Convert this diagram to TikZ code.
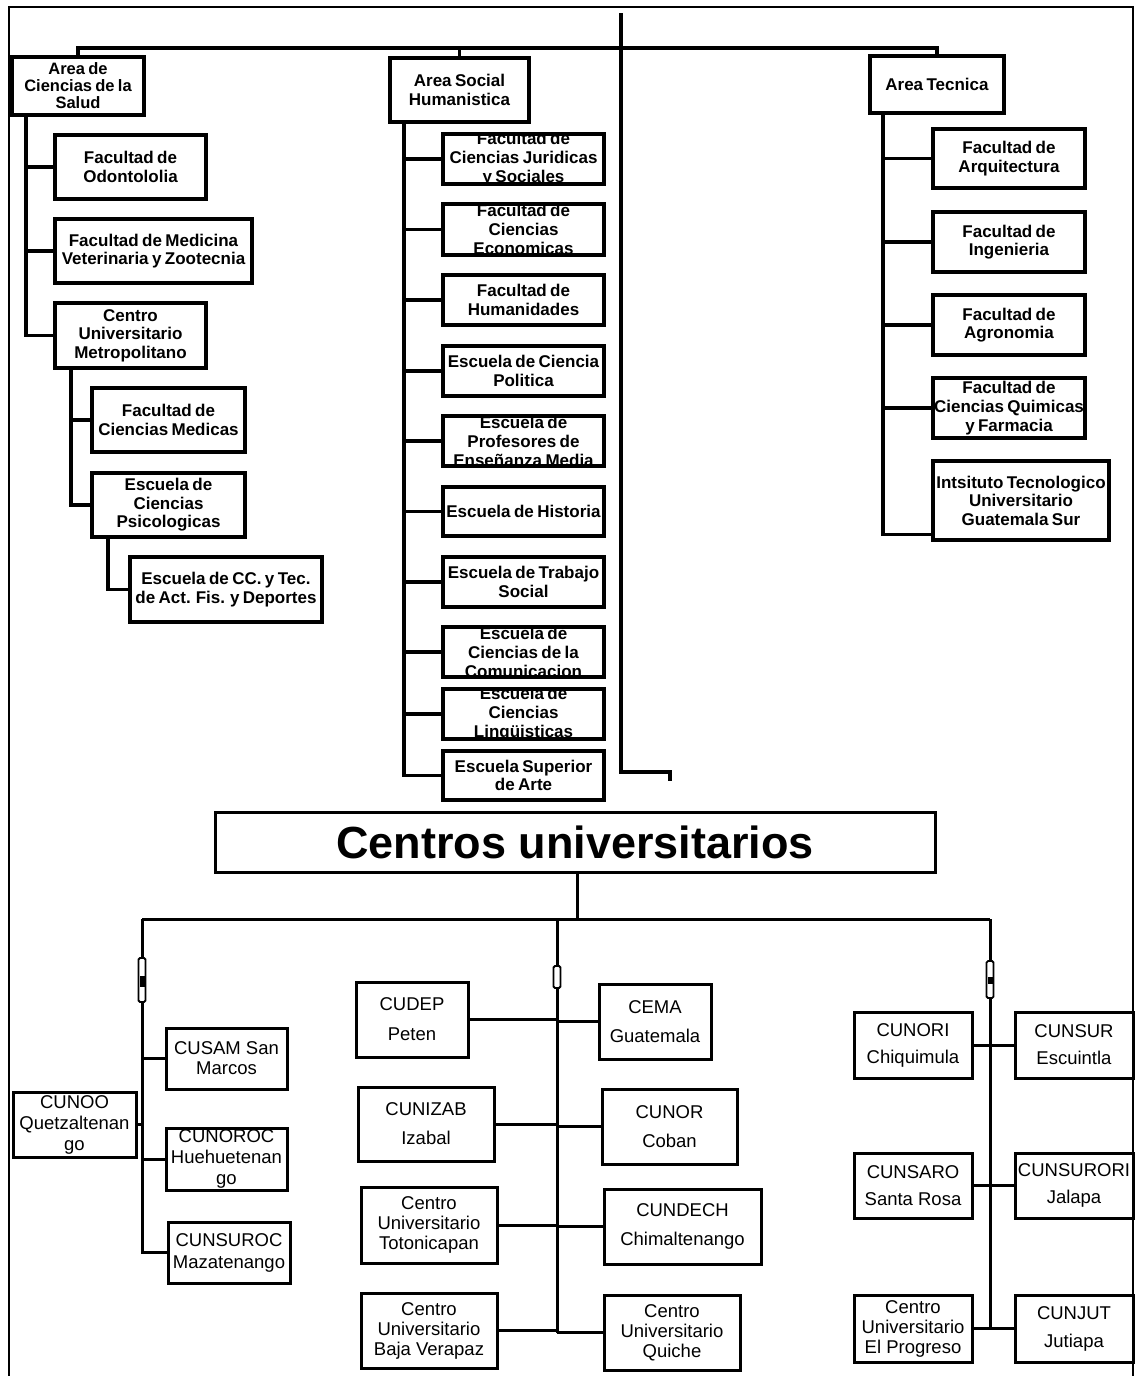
\documentclass[tikz,border=0pt]{standalone}
\usepackage{fontspec}
\setmainfont{Liberation Sans}
\newcommand\topf{\fontsize{17}{18.5}\selectfont\bfseries\spaceskip=0.2em\relax}
\newcommand\tightf{\fontsize{16.5}{17}\selectfont\bfseries\spaceskip=0.2em\relax}
\newcommand\clipf{\fontsize{17}{19}\selectfont\bfseries\spaceskip=0.2em\relax}
\newcommand\botf[1]{\fontsize{18.5}{#1}\selectfont}
\newcommand\orgnode[7][]{\node[box,#1,minimum width={#5-#3},minimum height={#6-#4}] (#2) at ({(#3+#5)/2},{(#4+#6)/2}) {#7};}
\tikzset{
  box/.style={draw, line width=3.4pt, inner sep=0pt, align=center, fill=white, font=\topf},
  conn/.style={line width=3.4pt},
  bconn/.style={line width=3pt},
  frame/.style={line width=2pt},
  mk/.style={draw, line width=1.8pt, fill=white, rounded corners=1.5pt},
  clipped/.style={path picture={\node[align=center,font=\clipf] at (path picture bounding box.center) {#1};}}
}
\begin{document}
\begin{tikzpicture}[x=1pt,y=-1pt]
\useasboundingbox (0,0) rectangle (1135,1376);
\draw[frame] (9,1376) -- (9,7) -- (1133,7) -- (1133,1376);

% ---------- top areas ----------
\orgnode[font=\tightf]{salud}{12}{57}{144}{115}{Area de\\Ciencias de la\\Salud}
\orgnode{social}{390}{58}{529}{122}{Area Social\\Humanistica}
\orgnode{tecnica}{870}{56}{1004}{113}{Area Tecnica}

% left column
\orgnode{odo}{55}{135}{206}{199}{Facultad de\\Odontololia}
\orgnode{vet}{55}{219}{252}{283}{Facultad de Medicina\\Veterinaria y Zootecnia}
\orgnode{cum}{55}{303}{206}{368}{Centro\\Universitario\\Metropolitano}
\orgnode{med}{92}{388}{245}{452}{Facultad de\\Ciencias Medicas}
\orgnode{psi}{92}{473}{245}{537}{Escuela de\\Ciencias\\Psicologicas}
\orgnode{dep}{130}{557}{322}{622}{Escuela de CC. y Tec.\\de Act. Fis. y Deportes}

% middle column
\orgnode[clipped={Facultad de\\Ciencias Juridicas\\y Sociales}]{jur}{443}{134}{604}{184}{}
\orgnode[clipped={Facultad de\\Ciencias\\Economicas}]{eco}{443}{204}{604}{255}{}
\orgnode{hum}{443}{275}{604}{325}{Facultad de\\Humanidades}
\orgnode{pol}{443}{346}{604}{396}{Escuela de Ciencia\\Politica}
\orgnode[clipped={Escuela de\\Profesores de\\Enseñanza Media}]{pro}{443}{416}{604}{466}{}
\orgnode{his}{443}{487}{604}{536}{Escuela de Historia}
\orgnode{tra}{443}{557}{604}{607}{Escuela de Trabajo\\Social}
\orgnode[clipped={Escuela de\\Ciencias de la\\Comunicacion}]{com}{443}{627}{604}{677}{}
\orgnode[clipped={Escuela de\\Ciencias\\Lingüisticas}]{lin}{443}{689}{604}{739}{}
\orgnode{art}{443}{751}{604}{800}{Escuela Superior\\de Arte}

% right column
\orgnode{arq}{933}{129}{1085}{188}{Facultad de\\Arquitectura}
\orgnode{ing}{933}{212}{1085}{272}{Facultad de\\Ingenieria}
\orgnode{agr}{933}{295}{1085}{355}{Facultad de\\Agronomia}
\orgnode[clipped={Facultad de\\Ciencias Quimicas\\y Farmacia}]{qui}{933}{378}{1085}{438}{}
\orgnode{its}{933}{461}{1109}{540}{Intsituto Tecnologico\\Universitario\\Guatemala Sur}

% ---------- top connectors ----------
\coordinate (barY) at (0,48);
\draw[conn] (salud.north) -- (salud.north |- barY) -- (tecnica.north |- barY) -- (tecnica.north);
\draw[conn] (social.north) -- (social.north |- barY);
\coordinate (c0) at (621,13);
\coordinate (c1) at (621,772);
\coordinate (c2) at (670,781);
\draw[conn] (c0) -- (c1) -| (c2);

\coordinate (lx) at (26,0);
\foreach \n in {odo,vet,cum} \draw[conn] (salud.south -| lx) |- (\n.west);
\coordinate (mx) at (71,0);
\foreach \n in {med,psi} \draw[conn] (cum.south -| mx) |- (\n.west);
\coordinate (px) at (108,0);
\draw[conn] (psi.south -| px) |- (dep.west);

\coordinate (sx) at (404,0);
\foreach \n in {jur,eco,hum,pol,pro,his,tra,com,lin,art} \draw[conn] (social.south -| sx) |- (\n.west);

\coordinate (tx) at (883,0);
\foreach \n in {arq,ing,agr,qui} \draw[conn] (tecnica.south -| tx) |- (\n.west);
\draw[conn] (tecnica.south -| tx) |- ([yshift=7pt]its.south west);

% ---------- Centros universitarios ----------
\node[draw, line width=3pt, fill=white, minimum width=720, minimum height=60, font=\fontsize{45}{50}\selectfont\bfseries] (cen) at (575,842) {Centros universitarios};

% bottom boxes
\tikzset{box/.append style={line width=3pt}}
\orgnode[font=\botf{21}]{cunoo}{13}{1092}{136}{1157}{CUNOO\\Quetzaltenan\\go}
\orgnode[font=\botf{20}]{cusam}{166}{1028}{287}{1089}{CUSAM San\\Marcos}
\orgnode[path picture={\node[align=center,font=\botf{21}] at (path picture bounding box.center) {CUNOROC\\Huehuetenan\\go};}]{cunoroc}{166}{1128}{287}{1190}{}
\orgnode[font=\botf{22}]{cunsuroc}{168}{1222}{290}{1283}{CUNSUROC\\Mazatenango}

\orgnode[font=\botf{30}]{cudep}{356}{982}{468}{1057}{CUDEP\\Peten}
\orgnode[font=\botf{29}]{cema}{599}{984}{711}{1059}{CEMA\\Guatemala}
\orgnode[font=\botf{29}]{cunizab}{358}{1087}{494}{1161}{CUNIZAB\\Izabal}
\orgnode[font=\botf{29}]{cunor}{602}{1089}{737}{1164}{CUNOR\\Coban}
\orgnode[font=\botf{20}]{toto}{361}{1187}{497}{1263}{Centro\\Universitario\\Totonicapan}
\orgnode[font=\botf{29}]{cundech}{604}{1189}{761}{1264}{CUNDECH\\Chimaltenango}
\orgnode[font=\botf{20}]{baja}{361}{1293}{497}{1368}{Centro\\Universitario\\Baja Verapaz}
\orgnode[font=\botf{20}]{quiche}{604}{1295}{740}{1370}{Centro\\Universitario\\Quiche}

\orgnode[font=\botf{27}]{cunori}{854}{1012}{972}{1078}{CUNORI\\Chiquimula}
\orgnode[font=\botf{27}]{cunsur}{1015}{1012}{1133}{1078}{CUNSUR\\Escuintla}
\orgnode[font=\botf{27}]{cunsaro}{854}{1153}{972}{1218}{CUNSARO\\Santa Rosa}
\orgnode[font=\botf{27}]{cunsurori}{1015}{1153}{1133}{1218}{CUNSURORI\\Jalapa}
\orgnode[font=\botf{20}]{prog}{854}{1295}{972}{1362}{Centro\\Universitario\\El Progreso}
\orgnode[font=\botf{28}]{cunjut}{1015}{1295}{1133}{1362}{CUNJUT\\Jutiapa}

% bottom connectors
\coordinate (hb) at (0,919);
\coordinate (s1) at (577,0);
\coordinate (lv) at (142,0);
\coordinate (cv) at (557,0);
\coordinate (rv) at (990,0);
\draw[bconn] (cen.south -| s1) -- (s1 |- hb);
\draw[bconn] (lv |- hb) -- (rv |- hb);

\draw[bconn] (lv |- hb) |- (cunsuroc.west);
\foreach \n in {cusam,cunoroc} \draw[bconn] (lv |- \n.west) -- (\n.west);
\draw[bconn] (cunoo.east) -- (lv |- cunoo.east);

\draw[bconn] (cv |- hb) -- (cv |- quiche.west);
\foreach \n in {cudep,cunizab,toto,baja} \draw[bconn] (\n.east) -- (cv |- \n.east);
\foreach \n in {cema,cunor,cundech,quiche} \draw[bconn] (cv |- \n.west) -- (\n.west);

\draw[bconn] (rv |- hb) -- (rv |- prog.east);
\foreach \n in {cunori,cunsaro,prog} \draw[bconn] (\n.east) -- (rv |- \n.east);
\foreach \n in {cunsur,cunsurori,cunjut} \draw[bconn] (rv |- \n.west) -- (\n.west);

% markers on the vertical lines
\draw[mk] (138.5,958) rectangle (145.5,1002);
\fill (139.5,976) rectangle (144.5,987);
\draw[mk] (553.5,966) rectangle (560.5,988);
\draw[mk] (986.5,961) rectangle (993.5,998);
\fill (987.5,977) rectangle (992.5,984);
\end{tikzpicture}
\end{document}
